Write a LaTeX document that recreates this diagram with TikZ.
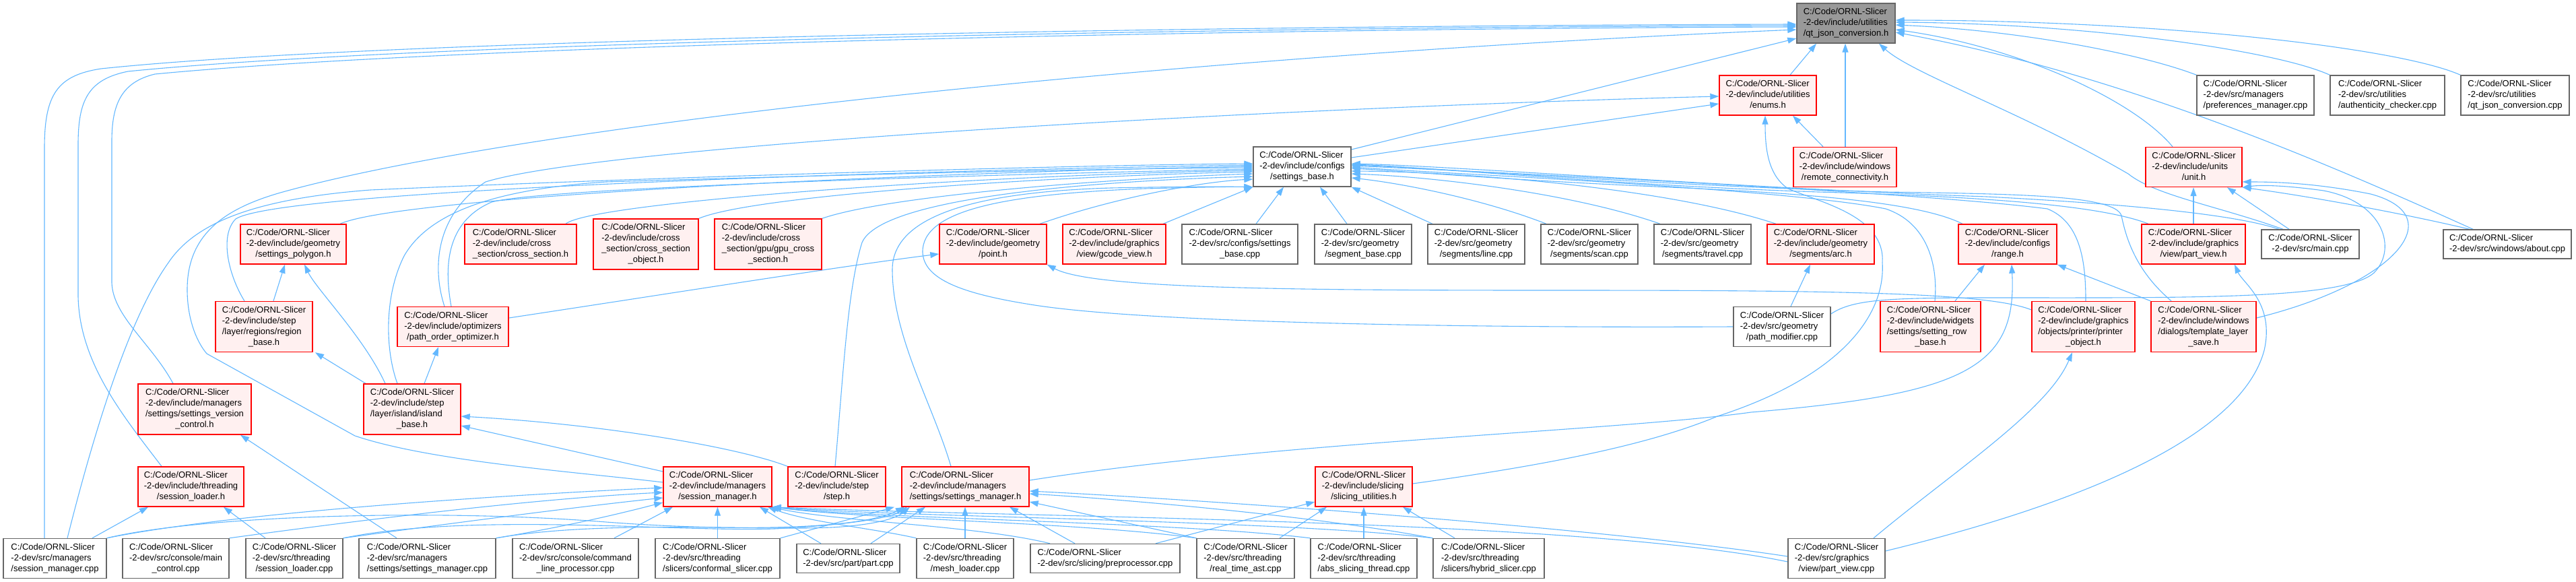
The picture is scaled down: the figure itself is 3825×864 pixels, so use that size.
\documentclass[tikz,border=0pt]{standalone}
\usepackage{fontspec}
\setmainfont{Liberation Sans}
\usetikzlibrary{arrows.meta,backgrounds}
\definecolor{edgeblue}{HTML}{63B8FF}
\definecolor{pinkfill}{HTML}{FFF0F0}
\definecolor{redline}{HTML}{FF0000}
\definecolor{greyline}{HTML}{666666}
\definecolor{rootfill}{HTML}{999999}
\newcommand{\dlabel}[2]{\begin{tabular}{@{}l@{}}#1\\\multicolumn{1}{@{}c@{}}{#2}\end{tabular}}
\begin{document}
\begin{tikzpicture}[x=1pt,y=-1pt,
  base/.style={draw, line width=1.4pt, inner sep=0pt, align=center, font=\fontsize{13}{16}\selectfont, anchor=center},
  hn/.style={base, draw=redline, fill=pinkfill},
  cn/.style={base, draw=greyline, fill=white},
  rn/.style={base, draw=greyline, fill=rootfill},
  n2/.style={minimum height=43pt},
  n3/.style={minimum height=59pt},
  n4/.style={minimum height=75pt},
  edge/.style={draw=edgeblue, line width=1.1pt, -{Triangle[length=13pt,width=9pt]}},
]
\useasboundingbox (0,0) rectangle (3825,864);
% ---------------- nodes
\node[rn,n3,minimum width=146pt] (Q) at (2741,34.5) {\dlabel{C:/Code/ORNL-Slicer\\-2-dev/include/utilities}{/qt\_json\_conversion.h}};
\node[hn,n3,minimum width=144pt] (E) at (2625,141.5) {\dlabel{C:/Code/ORNL-Slicer\\-2-dev/include/utilities}{/enums.h}};
\node[cn,n3,minimum width=174pt] (pref) at (3349,141.5) {\dlabel{C:/Code/ORNL-Slicer\\-2-dev/src/managers}{/preferences\_manager.cpp}};
\node[cn,n3,minimum width=170pt] (auth) at (3545,141.5) {\dlabel{C:/Code/ORNL-Slicer\\-2-dev/src/utilities}{/authenticity\_checker.cpp}};
\node[cn,n3,minimum width=161pt] (qjcpp) at (3734.5,141.5) {\dlabel{C:/Code/ORNL-Slicer\\-2-dev/src/utilities}{/qt\_json\_conversion.cpp}};
\node[cn,n3,minimum width=145pt] (SB) at (1933.5,247.5) {\dlabel{C:/Code/ORNL-Slicer\\-2-dev/include/configs}{/settings\_base.h}};
\node[hn,n3,minimum width=153pt] (remote) at (2739.5,248) {\dlabel{C:/Code/ORNL-Slicer\\-2-dev/include/windows}{/remote\_connectivity.h}};
\node[hn,n3,minimum width=143pt] (unit) at (3257.5,248) {\dlabel{C:/Code/ORNL-Slicer\\-2-dev/include/units}{/unit.h}};
% row D
\node[hn,n3,minimum width=157pt] (spoly) at (435.5,362.5) {\dlabel{C:/Code/ORNL-Slicer\\-2-dev/include/geometry}{/settings\_polygon.h}};
\node[hn,n3,minimum width=166pt] (cs) at (773,362.5) {\dlabel{C:/Code/ORNL-Slicer\\-2-dev/include/cross}{\_section/cross\_section.h}};
\node[hn,n4,minimum width=156pt] (cso) at (959,362.5) {\dlabel{C:/Code/ORNL-Slicer\\-2-dev/include/cross\\\_section/cross\_section}{\_object.h}};
\node[hn,n4,minimum width=159pt] (gpu) at (1140.5,362.5) {\dlabel{C:/Code/ORNL-Slicer\\-2-dev/include/cross\\\_section/gpu/gpu\_cross}{\_section.h}};
\node[hn,n3,minimum width=159pt] (point) at (1474.5,362.5) {\dlabel{C:/Code/ORNL-Slicer\\-2-dev/include/geometry}{/point.h}};
\node[hn,n3,minimum width=153pt] (gcode) at (1654.5,362.5) {\dlabel{C:/Code/ORNL-Slicer\\-2-dev/include/graphics}{/view/gcode\_view.h}};
\node[cn,n3,minimum width=172pt] (sbcpp) at (1841,362.5) {\dlabel{C:/Code/ORNL-Slicer\\-2-dev/src/configs/settings}{\_base.cpp}};
\node[cn,n3,minimum width=144pt] (segb) at (2024,362.5) {\dlabel{C:/Code/ORNL-Slicer\\-2-dev/src/geometry}{/segment\_base.cpp}};
\node[cn,n3,minimum width=144pt] (linec) at (2192,362.5) {\dlabel{C:/Code/ORNL-Slicer\\-2-dev/src/geometry}{/segments/line.cpp}};
\node[cn,n3,minimum width=144pt] (scanc) at (2360,362.5) {\dlabel{C:/Code/ORNL-Slicer\\-2-dev/src/geometry}{/segments/scan.cpp}};
\node[cn,n3,minimum width=144pt] (travc) at (2528,362.5) {\dlabel{C:/Code/ORNL-Slicer\\-2-dev/src/geometry}{/segments/travel.cpp}};
\node[hn,n3,minimum width=159pt] (arc) at (2703.5,362.5) {\dlabel{C:/Code/ORNL-Slicer\\-2-dev/include/geometry}{/segments/arc.h}};
\node[hn,n3,minimum width=146pt] (range) at (2981,362.5) {\dlabel{C:/Code/ORNL-Slicer\\-2-dev/include/configs}{/range.h}};
\node[hn,n3,minimum width=154pt] (pvh) at (3257,362.5) {\dlabel{C:/Code/ORNL-Slicer\\-2-dev/include/graphics}{/view/part\_view.h}};
\node[cn,n2,minimum width=145pt] (mainc) at (3430.5,362.5) {\dlabel{C:/Code/ORNL-Slicer}{-2-dev/src/main.cpp}};
\node[cn,n2,minimum width=190pt] (about) at (3723,362.5) {\dlabel{C:/Code/ORNL-Slicer}{-2-dev/src/windows/about.cpp}};
% row E
\node[hn,n4,minimum width=144pt] (region) at (392,485) {\dlabel{C:/Code/ORNL-Slicer\\-2-dev/include/step\\/layer/regions/region}{\_base.h}};
\node[hn,n3,minimum width=165pt] (poo) at (672.5,485) {\dlabel{C:/Code/ORNL-Slicer\\-2-dev/include/optimizers}{/path\_order\_optimizer.h}};
\node[cn,n3,minimum width=144pt] (pmod) at (2646,485) {\dlabel{C:/Code/ORNL-Slicer\\-2-dev/src/geometry}{/path\_modifier.cpp}};
\node[hn,n4,minimum width=149pt] (rowb) at (2866.5,485) {\dlabel{C:/Code/ORNL-Slicer\\-2-dev/include/widgets\\/settings/setting\_row}{\_base.h}};
\node[hn,n4,minimum width=153pt] (printer) at (3093.5,485) {\dlabel{C:/Code/ORNL-Slicer\\-2-dev/include/graphics\\/objects/printer/printer}{\_object.h}};
\node[hn,n4,minimum width=156pt] (tmpl) at (3272,485) {\dlabel{C:/Code/ORNL-Slicer\\-2-dev/include/windows\\/dialogs/template\_layer}{\_save.h}};
% row F
\node[hn,n4,minimum width=168pt] (svc) at (289,607.5) {\dlabel{C:/Code/ORNL-Slicer\\-2-dev/include/managers\\/settings/settings\_version}{\_control.h}};
\node[hn,n4,minimum width=144pt] (island) at (612,607.5) {\dlabel{C:/Code/ORNL-Slicer\\-2-dev/include/step\\/layer/island/island}{\_base.h}};
% row G
\node[hn,n3,minimum width=157pt] (sloaderh) at (283.5,722.5) {\dlabel{C:/Code/ORNL-Slicer\\-2-dev/include/threading}{/session\_loader.h}};
\node[hn,n3,minimum width=161pt] (smh) at (1065.5,722.5) {\dlabel{C:/Code/ORNL-Slicer\\-2-dev/include/managers}{/session\_manager.h}};
\node[hn,n3,minimum width=145pt] (step) at (1242.5,722.5) {\dlabel{C:/Code/ORNL-Slicer\\-2-dev/include/step}{/step.h}};
\node[hn,n3,minimum width=189pt] (setmh) at (1433.5,722.5) {\dlabel{C:/Code/ORNL-Slicer\\-2-dev/include/managers}{/settings/settings\_manager.h}};
\node[hn,n3,minimum width=144pt] (slicing) at (2025,722.5) {\dlabel{C:/Code/ORNL-Slicer\\-2-dev/include/slicing}{/slicing\_utilities.h}};
% row H
\node[cn,n3,minimum width=153pt] (smcpp) at (81.5,829) {\dlabel{C:/Code/ORNL-Slicer\\-2-dev/src/managers}{/session\_manager.cpp}};
\node[cn,n3,minimum width=158pt] (mctrl) at (261,829) {\dlabel{C:/Code/ORNL-Slicer\\-2-dev/src/console/main}{\_control.cpp}};
\node[cn,n3,minimum width=144pt] (sloadc) at (437,829) {\dlabel{C:/Code/ORNL-Slicer\\-2-dev/src/threading}{/session\_loader.cpp}};
\node[cn,n3,minimum width=203pt] (setmc) at (634.5,829) {\dlabel{C:/Code/ORNL-Slicer\\-2-dev/src/managers}{/settings/settings\_manager.cpp}};
\node[cn,n3,minimum width=187pt] (clp) at (854.5,829) {\dlabel{C:/Code/ORNL-Slicer\\-2-dev/src/console/command}{\_line\_processor.cpp}};
\node[cn,n3,minimum width=185pt] (conf) at (1065.5,829) {\dlabel{C:/Code/ORNL-Slicer\\-2-dev/src/threading}{/slicers/conformal\_slicer.cpp}};
\node[cn,n2,minimum width=153pt] (partc) at (1259.5,829) {\dlabel{C:/Code/ORNL-Slicer}{-2-dev/src/part/part.cpp}};
\node[cn,n3,minimum width=144pt] (mesh) at (1433,829) {\dlabel{C:/Code/ORNL-Slicer\\-2-dev/src/threading}{/mesh\_loader.cpp}};
\node[cn,n2,minimum width=222pt] (prep) at (1641,829) {\dlabel{C:/Code/ORNL-Slicer}{-2-dev/src/slicing/preprocessor.cpp}};
\node[cn,n3,minimum width=145pt] (rtast) at (1849.5,829) {\dlabel{C:/Code/ORNL-Slicer\\-2-dev/src/threading}{/real\_time\_ast.cpp}};
\node[cn,n3,minimum width=158pt] (abst) at (2025,829) {\dlabel{C:/Code/ORNL-Slicer\\-2-dev/src/threading}{/abs\_slicing\_thread.cpp}};
\node[cn,n3,minimum width=165pt] (hyb) at (2210.5,829) {\dlabel{C:/Code/ORNL-Slicer\\-2-dev/src/threading}{/slicers/hybrid\_slicer.cpp}};
\node[cn,n3,minimum width=144pt] (pvc) at (2727,829) {\dlabel{C:/Code/ORNL-Slicer\\-2-dev/src/graphics}{/view/part\_view.cpp}};
% ---------------- edges
\begin{scope}[on background layer]
\fill[white] (0,0) rectangle (3825,864);
% into qt_json_conversion.h
\draw[edge] (E.north -| 2658,0) -- (Q.south -| 2697,0);
\draw[edge] (remote.north -| 2740,0) -- (Q.south -| 2740,0);
\draw[edge] (mainc.north -| 3390,0) .. controls (3290,305) and (3200,290) .. (3160,258) .. controls (3000,165) and (2840,110) .. (Q.south -| 2790,0);
\draw[edge] (unit.north -| 3226,0) .. controls (3170,150) and (3000,70) .. (Q.east |- 0,44);
\draw[edge] (about.north -| 3672,0) .. controls (3450,240) and (3150,110) .. (Q.east |- 0,48);
\draw[edge] (pref.north west) .. controls (3180,80) and (3000,45) .. (Q.east |- 0,37);
\draw[edge] (auth.north west) .. controls (3380,75) and (3100,35) .. (Q.east |- 0,33);
\draw[edge] (qjcpp.north west) .. controls (3560,70) and (3200,30) .. (Q.east |- 0,30);
\draw[edge] (SB.east |- 0,222) -- (Q.west |- 0,57);
\draw[edge] (smcpp.north -| 66,0) -- (66,220) .. controls (66,140) and (85,112) .. (150,102) .. controls (600,55) and (1900,38) .. (Q.west |- 0,36);
\draw[edge] (sloaderh.north -| 240,0) .. controls (185,620) and (118,540) .. (116,440) -- (116,215) .. controls (116,150) and (130,118) .. (190,106) .. controls (650,60) and (1900,40) .. (Q.west |- 0,38);
\draw[edge] (svc.north -| 257,0) .. controls (225,510) and (168,470) .. (166,420) -- (166,210) .. controls (166,155) and (180,122) .. (230,110) .. controls (700,65) and (1900,42) .. (Q.west |- 0,40);
\draw[edge] (smh.west |- 0,716) .. controls (850,700) and (640,685) .. (527,647) -- (307,525) .. controls (290,505) and (278,470) .. (278,430) .. controls (278,350) and (330,310) .. (420,285) .. controls (800,180) and (1800,80) .. (Q.west |- 0,44);
% into enums.h
\draw[edge] (SB.east |- 0,234) -- (E.west |- 0,154);
\draw[edge] (remote.north -| 2707,0) -- (E.south -| 2662,0);
\draw[edge] (slicing.east |- 0,718) .. controls (2300,690) and (2450,660) .. (2550,618) .. controls (2730,560) and (2800,470) .. (2795,390) .. controls (2800,320) and (2700,300) .. (2655,280) .. controls (2625,260) and (2621,220) .. (E.south -| 2621,0);
\draw[edge] (poo.north -| 660,0) .. controls (642,400) and (645,320) .. (721,270) .. controls (900,215) and (1900,160) .. (E.west |- 0,143);
% into settings_base.h (left)
\draw[edge] (smcpp.north -| 100,0) .. controls (150,600) and (200,460) .. (250,390) .. controls (290,330) and (380,295) .. (550,282) .. controls (1000,262) and (1600,245) .. (SB.west |- 0,243);
\draw[edge] (region.north -| 363,0) .. controls (340,410) and (325,350) .. (350,325) .. controls (420,280) and (1400,252) .. (SB.west |- 0,245);
\draw[edge] (spoly.north -| 505,0) .. controls (600,290) and (1400,255) .. (SB.west |- 0,247);
\draw[edge] (island.north -| 590,0) .. controls (572,520) and (570,440) .. (600,380) .. controls (640,310) and (750,280) .. (900,270) .. controls (1300,258) and (1650,250) .. (SB.west |- 0,249);
\draw[edge] (poo.north -| 670,0) .. controls (660,400) and (660,330) .. (730,300) .. controls (810,278) and (1500,258) .. (SB.west |- 0,251);
\draw[edge] (cs.north -| 840,0) .. controls (880,300) and (1450,260) .. (SB.west |- 0,253);
\draw[edge] (cso.north east) .. controls (1120,290) and (1550,262) .. (SB.west |- 0,255);
\draw[edge] (gpu.north east) .. controls (1320,290) and (1650,265) .. (SB.west |- 0,258);
\draw[edge] (step.north -| 1240,0) .. controls (1252,560) and (1258,430) .. (1280,360) .. controls (1310,290) and (1650,268) .. (SB.west |- 0,262);
\draw[edge] (point.north -| 1544,0) .. controls (1650,295) and (1780,270) .. (SB.west |- 0,266);
\draw[edge] (gcode.north -| 1727,0) -- (SB.south west);
\draw[edge] (setmh.north -| 1412,0) .. controls (1385,600) and (1325,500) .. (1325,400) .. controls (1325,320) and (1450,285) .. (1650,279) .. controls (1750,277) and (1820,277) .. (SB.south west);
\draw[edge] (pmod.west) .. controls (2200,487) and (1700,480) .. (1530,452) .. controls (1430,436) and (1372,415) .. (1370,375) .. controls (1368,310) and (1500,288) .. (1700,280) .. controls (1780,278) and (1830,277) .. (SB.south west);
% into settings_base.h (below / right)
\draw[edge] (sbcpp.north -| 1865,0) -- (SB.south -| 1906,0);
\draw[edge] (segb.north -| 2000,0) -- (SB.south -| 1960,0);
\draw[edge] (linec.north -| 2127,0) -- (SB.south east);
\draw[edge] (scanc.north -| 2296,0) .. controls (2200,295) and (2080,272) .. (SB.east |- 0,264);
\draw[edge] (travc.north -| 2465,0) .. controls (2330,285) and (2120,262) .. (SB.east |- 0,258);
\draw[edge] (arc.north -| 2637,0) .. controls (2480,280) and (2180,255) .. (SB.east |- 0,254);
\draw[edge] (range.north -| 2914,0) .. controls (2850,300) and (2680,287) .. (2480,278) .. controls (2250,268) and (2080,254) .. (SB.east |- 0,250);
\draw[edge] (rowb.north -| 2873,0) .. controls (2878,390) and (2860,330) .. (2800,310) .. controls (2650,280) and (2150,258) .. (SB.east |- 0,248);
\draw[edge] (printer.north -| 3097,0) .. controls (3097,390) and (3090,330) .. (3040,310) .. controls (2850,285) and (2200,255) .. (SB.east |- 0,246);
\draw[edge] (tmpl.north -| 3224,0) .. controls (3175,405) and (3158,360) .. (3150,320) .. controls (3140,290) and (3000,288) .. (2800,285) .. controls (2450,275) and (2150,250) .. (SB.east |- 0,245);
\draw[edge] (pvh.north -| 3190,0) .. controls (3120,305) and (2950,292) .. (2700,285) .. controls (2400,275) and (2120,248) .. (SB.east |- 0,244);
\draw[edge] (mainc.north -| 3384,0) .. controls (3330,322) and (3200,305) .. (2950,292) .. controls (2600,280) and (2150,246) .. (SB.east |- 0,243);
% into unit.h
\draw[edge] (pvh.north -| 3257,0) -- (unit.south -| 3257,0);
\draw[edge] (mainc.north -| 3399,0) -- (unit.south -| 3307,0);
\draw[edge] (about.north -| 3667,0) .. controls (3560,315) and (3420,290) .. (unit.south east);
\draw[edge] (tmpl.east |- 0,472) .. controls (3560,420) and (3640,320) .. (3520,288) .. controls (3440,272) and (3380,270) .. (unit.east |- 0,270);
\draw[edge] (pmod.east |- 0,466) .. controls (2750,445) and (2800,442) .. (2950,442) .. controls (3250,442) and (3480,445) .. (3525,405) .. controls (3560,370) and (3540,300) .. (3450,283) .. controls (3400,276) and (3360,274) .. (unit.south east);
% into point.h
\draw[edge] (poo.east |- 0,472) .. controls (1000,435) and (1250,395) .. (point.west |- 0,377);
\draw[edge] (printer.west |- 0,460) .. controls (2950,433) and (2700,431) .. (2300,431) .. controls (1900,431) and (1620,428) .. (point.south east);
% island / region / optimizer / polygon
\draw[edge] (step.north west) .. controls (1100,665) and (900,630) .. (island.east |- 0,618);
\draw[edge] (smh.west |- 0,700) -- (island.east |- 0,632);
\draw[edge] (island.north -| 543,0) -- (region.south -| 468,0);
\draw[edge] (island.north -| 630,0) -- (poo.south -| 651,0);
\draw[edge] (island.north -| 572,0) .. controls (540,500) and (470,430) .. (spoly.south -| 452,0);
\draw[edge] (region.north -| 406,0) -- (spoly.south -| 423,0);
% session_loader.h, settings_version_control.h
\draw[edge] (smcpp.north -| 137,0) -- (sloaderh.south -| 220,0);
\draw[edge] (sloadc.north -| 394,0) -- (sloaderh.south -| 332,0);
\draw[edge] (setmc.north -| 589,0) -- (svc.south -| 357,0);
% into session_manager.h
\draw[edge] (smcpp.north east) .. controls (350,760) and (750,735) .. (smh.west |- 0,724);
\draw[edge] (mctrl.north east) .. controls (550,770) and (800,740) .. (smh.west |- 0,731);
\draw[edge] (sloadc.north east) .. controls (720,770) and (880,750) .. (smh.west |- 0,739);
\draw[edge] (setmc.north east) .. controls (850,780) and (930,760) .. (smh.west |- 0,746);
\draw[edge] (clp.north -| 912,0) -- (smh.south -| 999,0);
\draw[edge] (conf.north -| 1065.5,0) -- (smh.south -| 1065.5,0);
\draw[edge] (partc.north -| 1219,0) -- (smh.south -| 1128,0);
\draw[edge] (mesh.north west) .. controls (1300,785) and (1200,775) .. (smh.south -| 1140,0);
\draw[edge] (prep.north -| 1559,0) .. controls (1450,780) and (1250,775) .. (smh.south -| 1143,0);
\draw[edge] (rtast.north west) .. controls (1600,775) and (1300,772) .. (smh.south east);
\draw[edge] (abst.north west) .. controls (1750,775) and (1300,770) .. (smh.south east);
\draw[edge] (hyb.north west) .. controls (1900,772) and (1350,768) .. (smh.south east);
\draw[edge] (pvc.west |- 0,834) .. controls (2350,770) and (1500,768) .. (smh.south east);
% into settings_manager.h
\draw[edge] (smcpp.north east) .. controls (300,765) and (650,755) .. (900,775) .. controls (1100,790) and (1280,785) .. (setmh.south -| 1343,0);
\draw[edge] (sloadc.north east) .. controls (700,760) and (1000,790) .. (1150,785) .. controls (1250,780) and (1320,770) .. (setmh.south -| 1347,0);
\draw[edge] (setmc.north east) .. controls (900,770) and (1150,790) .. (1250,782) .. controls (1300,778) and (1330,770) .. (setmh.south -| 1351,0);
\draw[edge] (conf.north east) -- (setmh.south -| 1328,0);
\draw[edge] (partc.north -| 1293,0) -- (setmh.south -| 1374,0);
\draw[edge] (mesh.north) -- (setmh.south -| 1433,0);
\draw[edge] (prep.north -| 1596,0) -- (setmh.south -| 1499,0);
\draw[edge] (rtast.north west) -- (setmh.east |- 0,745);
\draw[edge] (hyb.north west) .. controls (1950,765) and (1650,740) .. (setmh.east |- 0,733);
\draw[edge] (pvc.west |- 0,826) .. controls (2350,780) and (1750,740) .. (setmh.east |- 0,729);
% into slicing_utilities.h
\draw[edge] (prep.north -| 1716,0) -- (slicing.west |- 0,745);
\draw[edge] (rtast.north -| 1900,0) -- (slicing.south -| 1970,0);
\draw[edge] (abst.north -| 2025,0) -- (slicing.south -| 2025,0);
\draw[edge] (hyb.north -| 2160,0) -- (slicing.south -| 2083,0);
% range, arc, printer, part_view
\draw[edge] (rowb.north -| 2903,0) -- (range.south -| 2947,0);
\draw[edge] (setmh.east |- 0,713) .. controls (1900,655) and (2400,640) .. (2600,612) .. controls (2920,585) and (2995,545) .. (range.south -| 2987,0);
\draw[edge] (tmpl.north west) -- (range.south east);
\draw[edge] (pmod.north -| 2659,0) -- (arc.south -| 2688,0);
\draw[edge] (pvc.north -| 2782,0) .. controls (2900,700) and (3040,610) .. (printer.south -| 3077,0);
\draw[edge] (pvc.east |- 0,818) .. controls (3120,740) and (3330,640) .. (3362,520) .. controls (3378,450) and (3330,420) .. (pvh.south -| 3318,0);
\end{scope}
\end{tikzpicture}
\end{document}
